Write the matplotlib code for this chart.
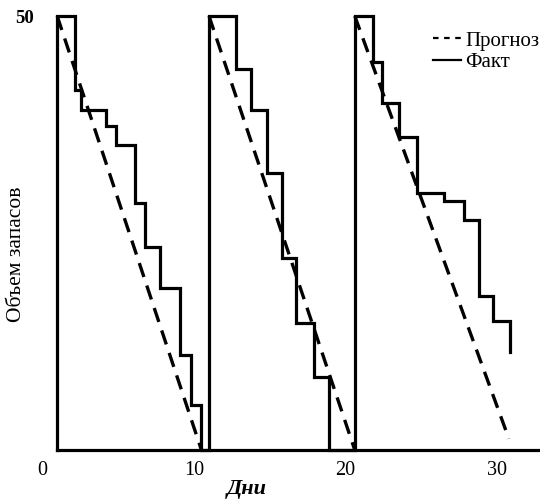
import matplotlib
matplotlib.use("Agg")
import matplotlib.pyplot as plt
from matplotlib.lines import Line2D

# #############################################################################
# Data (days, stock units)

# actual stock: step line over three order cycles
fact_days = [1, 1, 2.17, 2.17, 2.6, 2.6, 4.2, 4.2, 4.9, 4.9, 6.1, 6.1, 6.8, 6.8,
             7.8, 7.8, 9.1, 9.1, 9.8, 9.8, 10.5, 10.5,
             11, 11, 12.76, 12.76, 13.75, 13.75, 14.8, 14.8, 15.8, 15.8, 16.7, 16.7,
             17.9, 17.9, 18.9, 18.9,
             20.6, 20.6, 21.8, 21.8, 22.4, 22.4, 23.5, 23.5, 24.7, 24.7, 26.5, 26.5,
             27.8, 27.8, 28.75, 28.75, 29.7, 29.7, 30.8, 30.8]
fact_stock = [0, 50, 50, 41.5, 41.5, 39.2, 39.2, 37.3, 37.3, 35.1, 35.1, 28.5, 28.5, 23.4,
              23.4, 18.7, 18.7, 10.9, 10.9, 5.2, 5.2, 0,
              0, 50, 50, 43.9, 43.9, 39.2, 39.2, 31.9, 31.9, 22.1, 22.1, 14.6,
              14.6, 8.4, 8.4, 0,
              0, 50, 50, 44.7, 44.7, 40.0, 40.0, 36.1, 36.1, 29.6, 29.6, 28.7,
              28.7, 26.5, 26.5, 17.7, 17.7, 14.9, 14.9, 11.3]

# forecast: straight decline in each cycle
plan_start = [1, 11, 20.6]
plan_end = [10.5, 20.6, 30.75]
plan_top = [50, 50, 50]
plan_bottom = [0, 0, 1.3]

x_ticks = [0, 10, 20, 30]
y_ticks = [50]

# #############################################################################
# Plot
plt.rcParams['font.family'] = ['Liberation Serif', 'DejaVu Serif']

fig = plt.figure(figsize=(5.4, 5.01), dpi=100)
ax = fig.add_axes([42 / 540, 1 - 450 / 501, 498 / 540, (450 - 11.7) / 501])

ax.plot(fact_days, fact_stock, color='black', lw=2.3, solid_joinstyle='miter',
        clip_on=False)
for x0, x1, y0, y1 in zip(plan_start, plan_end, plan_top, plan_bottom):
    ax.plot([x0, x1], [y0, y1], color='black', lw=2.4,
            linestyle=(0, (4.4, 2.7)), clip_on=False)

ax.set_xlim(0, 32.8)
ax.set_ylim(0, 50.5)

for side in ['top', 'right', 'left']:
    ax.spines[side].set_visible(False)
ax.spines['bottom'].set_linewidth(2.3)
ax.spines['bottom'].set_bounds(1, 32.8)

ax.set_xticks(x_ticks)
ax.set_xticklabels([str(t) for t in x_ticks], fontsize=14.5)
ax.set_yticks(y_ticks)
ax.set_yticklabels([str(t) for t in y_ticks], fontsize=13.5, fontweight='bold')
ax.tick_params(axis='x', length=0, pad=8)
ax.tick_params(axis='y', length=0, pad=6)

fig.text(17 / 540, 1 - 254 / 501, 'Объем запасов', rotation=90, ha='center',
         va='center', fontsize=15.5)
fig.text(247 / 540, 1 - 489 / 501, 'Дни', ha='center', va='center',
         fontsize=16, fontweight='bold', fontstyle='italic')

handles = [Line2D([], [], color='black', lw=1.6, linestyle=(0, (2.5, 2.5))),
           Line2D([], [], color='black', lw=1.6)]
ax.legend(handles, ['Прогноз', 'Факт'], loc='upper left', frameon=False,
          bbox_to_anchor=(433 / 540, 1 - 31 / 501), bbox_transform=fig.transFigure,
          borderaxespad=0, borderpad=0, handlelength=1.35, handletextpad=0.2,
          labelspacing=0.1, fontsize=15)

fig.savefig('out.png', dpi=100)
